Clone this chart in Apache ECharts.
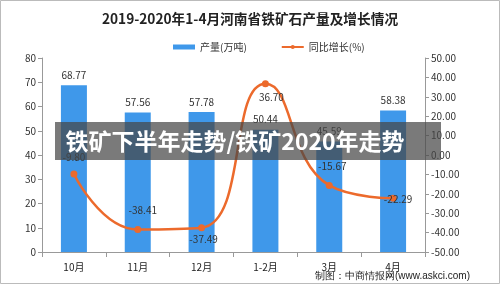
<!DOCTYPE html>
<html>
<head>
<meta charset="utf-8">
<script src="https://cdn.jsdelivr.net/npm/echarts@6/dist/echarts.min.js"></script>
<style>
    html, body { margin: 0; padding: 0; background: #fff; }
    #chart { width: 500px; height: 284px; }
</style>
</head>
<body>
<div id="chart"></div>
<script>
    // 月份
    var months = ['10月', '11月', '12月', '1-2月', '3月', '4月'];
    // 产量(万吨)
    var output = [68.77, 57.56, 57.78, 50.44, 45.59, 58.38];
    // 同比增长(%)
    var growth = [-9.80, -38.41, -37.49, 36.70, -15.67, -22.29];
    // 折线标签偏移
    var growthLabelOffset = [[0, -17], [5, -19], [2, 11], [6, 13], [3, -19], [5, 1]];

    var myChart = echarts.init(document.getElementById('chart'));
    var font = '"Noto Sans CJK SC", "DejaVu Sans", sans-serif';

    myChart.setOption({
        animation: false,
        textStyle: { fontFamily: font },
        title: {
            text: '2019-2020年1-4月河南省铁矿石产量及增长情况',
            left: 'center',
            top: 7,
            textStyle: { fontSize: 13.7, fontWeight: 'bold', color: '#222', fontFamily: font }
        },
        legend: {
            top: 37,
            left: 168,
            itemGap: 34,
            itemWidth: 22,
            itemHeight: 5,
            textStyle: { fontSize: 10, color: '#333' },
            data: [
                { name: '产量(万吨)', icon: 'rect' },
                { name: '同比增长(%)' }
            ]
        },
        grid: { left: 42, right: 75, top: 58, bottom: 32 },
        xAxis: {
            type: 'category',
            data: months,
            axisLine: { lineStyle: { color: '#999' } },
            axisTick: { show: true, lineStyle: { color: '#999' } },
            axisLabel: { color: '#222', fontSize: 10, margin: 10 }
        },
        yAxis: [{
            type: 'value',
            min: 0,
            max: 80,
            interval: 10,
            splitLine: { show: false },
            axisLine: { show: true, lineStyle: { color: '#999' } },
            axisTick: { show: true, length: 4, lineStyle: { color: '#999' } },
            axisLabel: { color: '#333', fontSize: 10, margin: 6 }
        }, {
            type: 'value',
            min: -50,
            max: 50,
            interval: 10,
            splitLine: { show: false },
            axisLine: { show: true, lineStyle: { color: '#999' } },
            axisTick: { show: true, length: 4, lineStyle: { color: '#999' } },
            axisLabel: {
                color: '#333', fontSize: 10, margin: 6,
                formatter: function (v) { return v.toFixed(2); }
            }
        }],
        series: [{
            name: '产量(万吨)',
            type: 'bar',
            data: output,
            barWidth: 26,
            itemStyle: { color: '#3F98EA' },
            label: {
                show: true,
                position: 'top',
                fontSize: 10,
                color: '#333',
                formatter: function (p) { return p.value.toFixed(2); }
            }
        }, {
            name: '同比增长(%)',
            type: 'line',
            yAxisIndex: 1,
            smooth: 0.5,
            symbol: 'circle',
            symbolSize: 7,
            lineStyle: { color: '#EC6A2C', width: 2.5 },
            itemStyle: { color: '#EC6A2C' },
            data: growth.map(function (v, i) {
                return {
                    value: v,
                    label: { offset: growthLabelOffset[i] }
                };
            }),
            label: {
                show: true,
                position: 'inside',
                fontSize: 10,
                color: '#333',
                formatter: function (p) { return p.value.toFixed(2); }
            }
        }],
        graphic: [{
            type: 'rect',
            shape: { x: 0.5, y: 0.5, width: 499, height: 283 },
            style: { fill: 'none', stroke: '#bbb', lineWidth: 1 },
            silent: true
        }, {
            type: 'text',
            right: 30,
            bottom: 3,
            style: { text: '制图：中商情报网(www.askci.com)', fontSize: 10, fill: '#222', font: '10px ' + font }
        }, {
            type: 'rect',
            shape: { x: 55, y: 122, width: 386, height: 38 },
            style: { fill: 'rgba(70,70,70,0.72)' },
            z: 100
        }, {
            type: 'text',
            x: 235,
            y: 141,
            z: 101,
            style: {
                text: '铁矿下半年走势/铁矿2020年走势',
                fill: '#fff',
                font: 'bold 23px ' + font,
                align: 'center',
                verticalAlign: 'middle'
            }
        }]
    });
</script>
</body>
</html>
